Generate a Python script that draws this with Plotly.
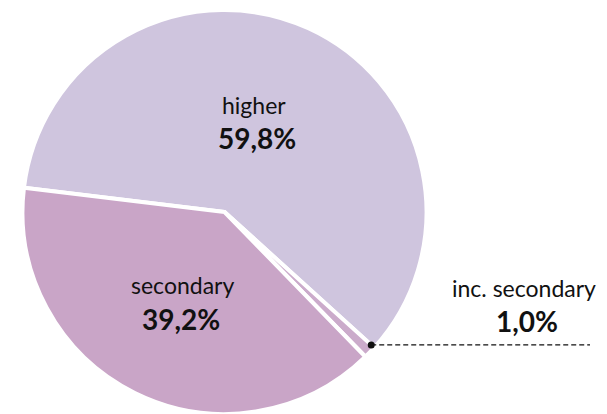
import math
import plotly.graph_objects as go

# ---- data ----
labels = ["higher", "inc. secondary", "secondary"]
values = [59.8, 1.0, 39.2]
colors = ["#CFC5DE", "#CBABCB", "#C9A5C7"]

W, H = 607, 414
M_T, M_B = 10, 0
ROT = -83.1

def fmt(v):
    return f"{v:.1f}".replace(".", ",") + "%"

fig = go.Figure(go.Pie(
    labels=labels, values=values, sort=False, direction="clockwise",
    rotation=ROT, textinfo="none", hoverinfo="none",
    marker=dict(colors=colors, line=dict(color="white", width=4)),
    domain=dict(x=[0, 449 / W], y=[0, 1]), showlegend=False,
))

plot_h = H - M_T - M_B
def py2paper(py):
    return (H - M_B - py) / plot_h

FONT = "Lato, 'Open Sans', sans-serif"
TXT = "#111111"

ann_pos = {
    "higher": ((254, 105), (257, 138)),
    "secondary": ((182, 285), (181, 319)),
    "inc. secondary": ((524, 288), (527, 321)),
}
annotations = []
for lab, val in zip(labels, values):
    (lx, ly), (vx, vy) = ann_pos[lab]
    annotations.append(dict(x=lx / W, y=py2paper(ly), xref="paper", yref="paper",
                            text=lab, showarrow=False, xanchor="center", yanchor="middle",
                            font=dict(family=FONT, size=23, color=TXT)))
    annotations.append(dict(x=vx / W, y=py2paper(vy), xref="paper", yref="paper",
                            text=f"<b>{fmt(val)}</b>", showarrow=False, xanchor="center",
                            yanchor="middle", font=dict(family=FONT, size=28, color=TXT)))

# leader for the small slice, located from the data
total = sum(values)
cx, cy = 224.5, M_T + plot_h / 2
R = plot_h / 2 - 4
theta = math.radians(ROT + 360 * values[0] / total)
dot_x = cx + R * math.sin(theta)
dot_y = cy - R * math.cos(theta)
end_x = 590

shapes = [
    dict(type="line", xref="paper", yref="paper", x0=dot_x / W, x1=end_x / W,
         y0=py2paper(dot_y), y1=py2paper(dot_y),
         line=dict(color="#111111", width=1.2, dash="5px,3px")),
    dict(type="circle", xref="paper", yref="paper", xsizemode="pixel", ysizemode="pixel",
         xanchor=dot_x / W, yanchor=py2paper(dot_y), x0=-3.5, x1=3.5, y0=-3.5, y1=3.5,
         fillcolor="#111111", line=dict(width=0)),
]

fig.update_layout(
    width=W, height=H, margin=dict(l=0, r=0, t=M_T, b=M_B),
    paper_bgcolor="white", plot_bgcolor="white",
    annotations=annotations, shapes=shapes,
)
fig.write_html("out.html")
